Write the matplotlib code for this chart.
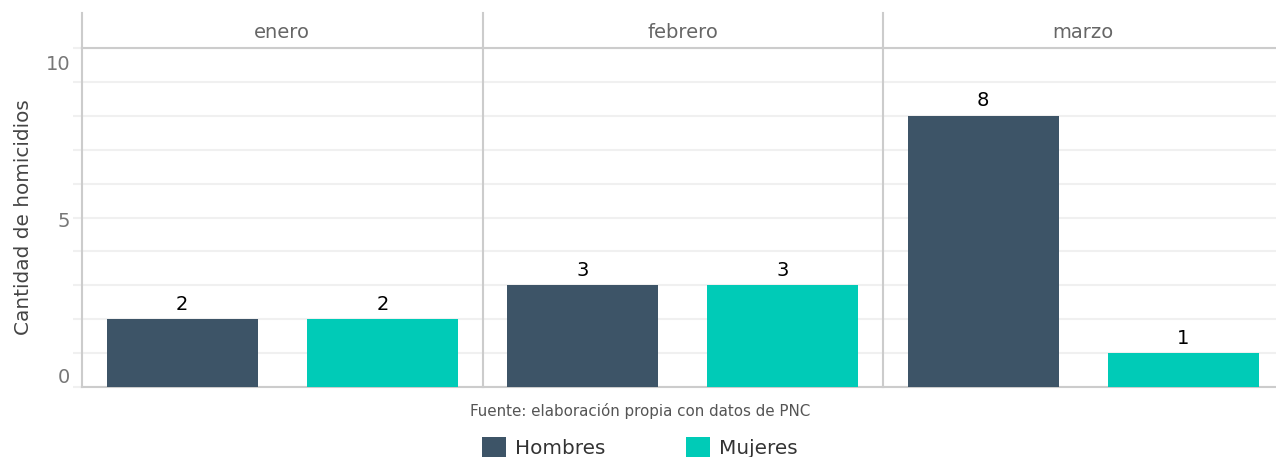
import numpy as np
import matplotlib.pyplot as plt
from matplotlib.patches import Patch

meses = ["enero", "febrero", "marzo"]
sexos = ["Hombres", "Mujeres"]
hombres = [2, 3, 8]
mujeres = [2, 3, 1]
colores = ["#3d5467", "#00cbb7"]

W, H = 1276, 457
fig = plt.figure(figsize=(W / 100, H / 100), dpi=100)
plt.rcParams["font.family"] = "DejaVu Sans"

linea = "#cccccc"
grid = "#f0f0f0"


def px(x0, y0, w, h):
    # pixel box (top-left origin) -> figure fraction
    return [x0 / W, (H - y0 - h) / H, w / W, h / H]


panel_top, panel_bot = 48, 387
ancho = 400.5
lefts = [82, 482.5, 883]

for i, mes in enumerate(meses):
    x0 = lefts[i]
    ax = fig.add_axes(px(x0, panel_top, ancho, panel_bot - panel_top))
    valores = [hombres[i], mujeres[i]]
    pos = np.arange(1, 3)
    ax.bar(pos, valores, width=0.755, color=colores, zorder=3)
    for p, v in zip(pos, valores):
        ax.annotate(str(v), (p, v), xytext=(0, 4), textcoords="offset points",
                    ha="center", va="bottom", fontsize=14, color="black")
    ax.set_xlim(0.5, 2.5)
    ax.set_ylim(0, 10)
    ax.set_xticks([])
    ax.set_yticks(range(0, 11))
    ax.yaxis.grid(True, color=grid, linewidth=1.5, zorder=0)
    for s in ["top", "right"]:
        ax.spines[s].set_visible(False)
    ax.spines["left"].set_color(linea)
    ax.spines["left"].set_linewidth(1.5)
    ax.spines["bottom"].set_color(linea)
    ax.spines["bottom"].set_linewidth(1.5)
    if i == 0:
        ax.tick_params(axis="y", which="major", length=6.5, color=grid,
                       width=1.5, labelleft=False)
        ax.set_yticks([0.35, 4.93, 9.56], ["0", "5", "10"], minor=True)
        ax.tick_params(axis="y", which="minor", length=0, pad=8.5,
                       labelsize=14, labelcolor="#777777")
        ax.set_ylabel("Cantidad de homicidios", fontsize=14.4, color="#444444",
                      labelpad=9)
    else:
        ax.tick_params(axis="y", length=0, labelleft=False)

    # facet strip
    st = fig.add_axes(px(x0, 13, ancho, panel_top - 13))
    st.set_xticks([])
    st.set_yticks([])
    for s in ["top", "right"]:
        st.spines[s].set_visible(False)
    st.spines["left"].set_color(linea)
    st.spines["left"].set_linewidth(1.5)
    st.spines["bottom"].set_color(linea)
    st.spines["bottom"].set_linewidth(1.5)
    st.text(0.5, 0.45, mes, transform=st.transAxes, ha="center", va="center",
            fontsize=14, color="#666666")

fig.text(640 / W, (H - 411) / H, "Fuente: elaboración propia con datos de PNC",
         ha="center", va="center", fontsize=10.9, color="#555555")

handles = [Patch(facecolor=c, edgecolor="none") for c in colores]
fig.legend(handles, sexos, loc="center", bbox_to_anchor=(640 / W, (H - 447) / H),
           ncol=2, frameon=False, fontsize=14.4, handlelength=1.2,
           handleheight=1.2, handletextpad=0.45, columnspacing=4.0,
           borderpad=0, borderaxespad=0, labelcolor="#333333")

fig.savefig("out.png", dpi=100)
